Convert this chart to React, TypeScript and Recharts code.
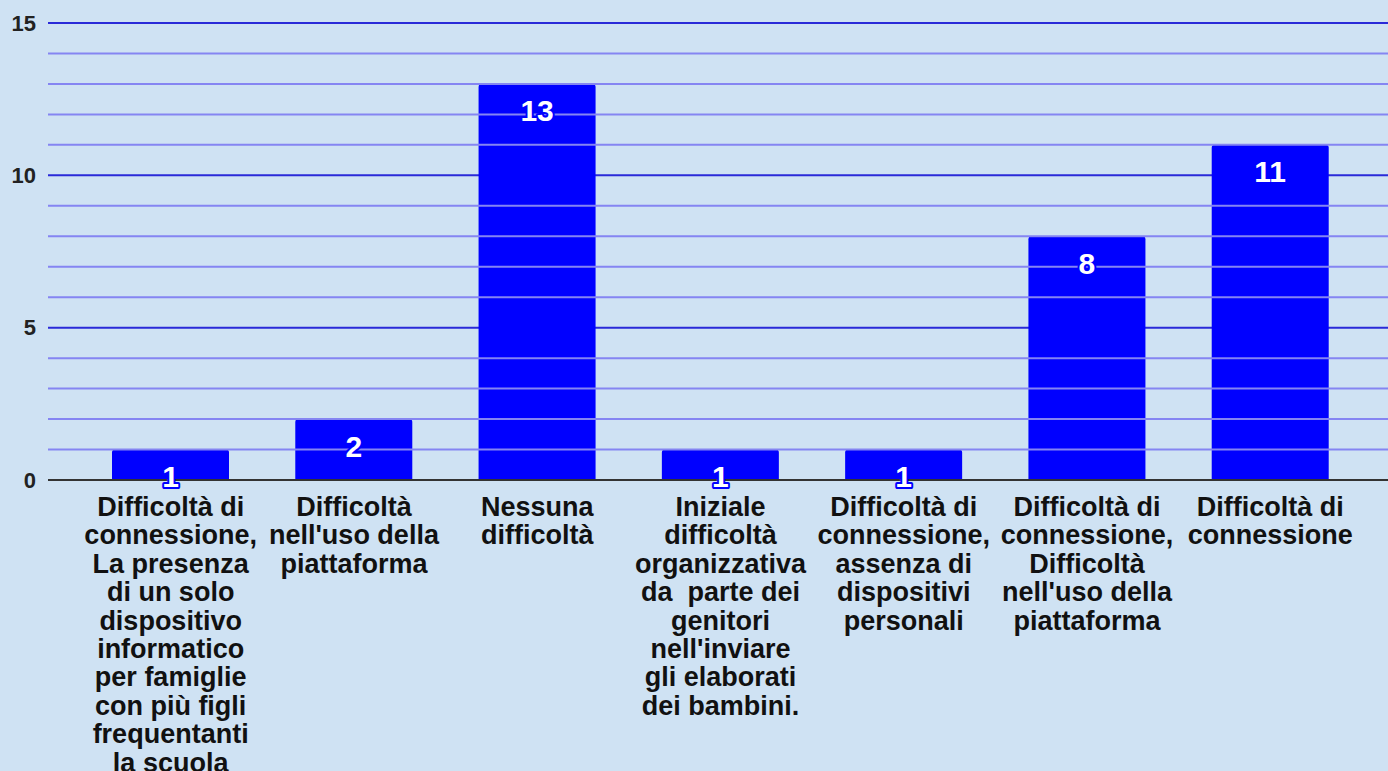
import { Bar, BarChart, CartesianGrid, LabelList, ReferenceLine, XAxis, YAxis } from 'recharts'

const categories = [
  'Difficoltà di\nconnessione,\nLa presenza\ndi un solo\ndispositivo\ninformatico\nper famiglie\ncon più figli\nfrequentanti\nla scuola',
  'Difficoltà\nnell\'uso della\npiattaforma',
  'Nessuna\ndifficoltà',
  'Iniziale\ndifficoltà\norganizzativa\nda  parte dei\ngenitori\nnell\'inviare\ngli elaborati\ndei bambini.',
  'Difficoltà di\nconnessione,\nassenza di\ndispositivi\npersonali',
  'Difficoltà di\nconnessione,\nDifficoltà\nnell\'uso della\npiattaforma',
  'Difficoltà di\nconnessione',
]
const counts = [1, 2, 13, 1, 1, 8, 11]
const majorTicks = [0, 5, 10, 15]
const minorTicks = [1, 2, 3, 4, 6, 7, 8, 9, 11, 12, 13, 14]

const data = categories.map((name, i) => ({ name, value: counts[i] }))

const FONT = '"Liberation Sans", Arial, sans-serif'

function CategoryTick(props: any) {
  const { x, y, payload } = props
  const lines = String(payload.value).split('\n')
  return (
    <text
      x={x}
      y={y}
      textAnchor="middle"
      fontFamily={FONT}
      fontWeight="bold"
      fontSize={27}
      fill="#111"
      style={{ whiteSpace: 'pre' }}
    >
      {lines.map((l, i) => (
        <tspan key={i} x={x} dy={i === 0 ? 36 : 28.4}>
          {l}
        </tspan>
      ))}
    </text>
  )
}

function ValueLabel(props: any) {
  const { x, y, width, value } = props
  return (
    <text
      x={x + width / 2}
      y={y + 27}
      textAnchor="middle"
      dominantBaseline="central"
      fontFamily={FONT}
      fontWeight="bold"
      fontSize={30}
      fill="#fff"
      stroke="#0000ff"
      strokeWidth={4}
      paintOrder="stroke"
      strokeLinejoin="round"
    >
      {value}
    </text>
  )
}

export default function App() {
  return (
    <div
      style={{
        position: 'absolute',
        left: 0,
        top: 0,
        width: 1388,
        height: 771,
        background: '#cfe2f3',
      }}
    >
      <BarChart
        width={1388}
        height={771}
        data={data}
        margin={{ top: 23, right: 0, left: 0, bottom: 0 }}
        barSize={117}
      >
        <CartesianGrid vertical={false} stroke="#2a2ad8" strokeWidth={2} />
        {minorTicks.map((t) => (
          <ReferenceLine key={t} y={t} stroke="#8585f2" strokeWidth={2} />
        ))}
        <XAxis
          dataKey="name"
          interval={0}
          height={291}
          tickLine={false}
          tickSize={0}
          tickMargin={0}
          axisLine={{ stroke: '#333', strokeWidth: 2 }}
          padding={{ left: 31, right: 26 }}
          tick={<CategoryTick />}
        />
        <YAxis
          domain={[0, 15]}
          ticks={majorTicks}
          width={48}
          axisLine={false}
          tickLine={false}
          tickSize={0}
          tickMargin={12}
          tick={{ fontFamily: FONT, fontWeight: 'bold', fontSize: 22, fill: '#222' }}
        />
        <Bar dataKey="value" fill="#0000ff" radius={[3, 3, 0, 0]} isAnimationActive={false}>
          <LabelList dataKey="value" content={<ValueLabel />} />
        </Bar>
      </BarChart>
    </div>
  )
}
